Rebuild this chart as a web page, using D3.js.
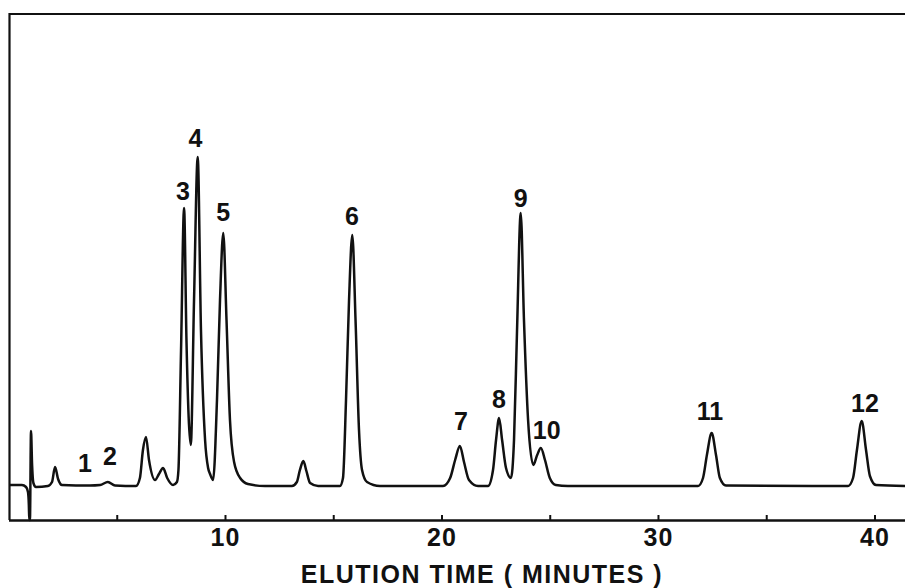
<!DOCTYPE html>
<html>
<head>
<meta charset="utf-8">
<script src="https://cdn.jsdelivr.net/npm/d3@7"></script>
<style>
  body { margin: 0; background: #fff; }
  svg { display: block; }
  .peak-label, .tick text { font-family: "Liberation Sans", Arial, sans-serif; font-weight: bold; fill: #111; }
</style>
</head>
<body>
<div id="chart"></div>
<script>
// detector trace (minutes, arbitrary response units)
const times = [
  0.07, 0.62, 0.81, 0.90, 0.94, 0.96, 0.99, 1.04, 1.09, 1.15, 1.27,
  1.82, 2.01, 2.15, 2.29, 2.47,
  3.76, 4.23, 4.59, 4.92,
  5.89, 6.07, 6.21, 6.35, 6.49, 6.77, 6.95, 7.14, 7.33, 7.60, 7.78,
  7.85, 7.97, 8.11, 8.22, 8.42, 8.57, 8.74, 8.89, 9.08, 9.22, 9.31, 9.45,
  9.63, 9.77, 9.92, 10.07, 10.23, 10.42, 10.70, 11.06, 11.85,
  13.09, 13.32, 13.46, 13.62, 13.76, 13.93, 14.30,
  15.31, 15.45, 15.59, 15.73, 15.88, 16.03, 16.19, 16.33, 16.56, 17.16,
  20.07, 20.40, 20.63, 20.85, 21.04, 21.27, 21.69,
  22.15, 22.38, 22.52, 22.66, 22.80, 22.98, 23.21,
  23.35, 23.49, 23.66, 23.81, 24.00, 24.24,
  24.42, 24.59, 24.78, 25.00, 25.28, 25.84,
  31.85, 32.08, 32.26, 32.48, 32.68, 32.86, 33.14,
  38.78, 39.01, 39.19, 39.41, 39.61, 39.79, 40.07, 41.41
];
const signal = [
  1, 1, -1, -6, -19, -34, -34, 55, 21, 3, -1,
  0, 4, 19, 7, 1,
  0.5, 1, 4, 0.5,
  0, 8, 36, 49, 26, 6, 12, 18, 8, 1, 4,
  16, 136, 278, 146, 41, 186, 329, 156, 46, 18, 12, 6,
  86, 186, 253, 166, 66, 24, 8, 2, 0,
  0, 4, 16, 25, 15, 3, 0,
  0, 8, 86, 186, 251, 166, 56, 16, 4, 0,
  0, 8, 26, 40, 24, 6, 0,
  0, 16, 46, 68, 46, 18, 8,
  46, 156, 273, 166, 66, 21,
  31, 38, 26, 8, 1, 0,
  0, 8, 31, 53, 31, 8, 0.5,
  0, 8, 36, 65, 36, 10, 1, 0
];

// peak numbers and where they are written
const peakNames = ['1', '2', '3', '4', '5', '6', '7', '8', '9', '10', '11', '12'];
const labelTimes = [3.53, 4.69, 8.06, 8.63, 9.92, 15.87, 20.90, 22.66, 23.66, 24.86, 32.40, 39.56];
const labelLevels = [14, 21, 286, 339, 265, 261, 56, 78, 279, 47, 66, 74];

const tickValues = [5, 10, 15, 20, 25, 30, 35, 40];
const tickLabels = ['', '10', '', '20', '', '30', '', '40'];
const axisTitle = 'ELUTION TIME ( MINUTES )';

const width = 905;
const height = 588;
const plot = { left: 9.5, top: 14, bottom: 520 };

const svg = d3.select('#chart')
  .append('svg')
  .attr('width', width)
  .attr('height', height);

const x = d3.scaleLinear().domain([0, 41.41]).range([8.5, 905]);
const y = d3.scaleLinear().domain([-34, 472]).range([plot.bottom, plot.top]);

// frame: left and top edges
svg.append('path')
  .attr('d', `M${plot.left},${plot.bottom} V${plot.top} H${width}`)
  .attr('fill', 'none')
  .attr('stroke', '#111')
  .attr('stroke-width', 2.2);

// time axis, ticks pointing up
const axis = svg.append('g')
  .attr('transform', `translate(0,${plot.bottom})`)
  .call(d3.axisBottom(x)
    .tickValues(tickValues)
    .tickFormat((d, i) => tickLabels[i])
    .tickSizeInner(-5)
    .tickSizeOuter(0)
    .tickPadding(8));

axis.select('.domain').attr('stroke', '#111').attr('stroke-width', 2.4);
axis.selectAll('.tick line').attr('stroke', '#111').attr('stroke-width', 2);
axis.selectAll('.tick text')
  .attr('font-size', 25)
  .attr('letter-spacing', 1);

svg.append('text')
  .attr('class', 'peak-label')
  .attr('x', 482)
  .attr('y', 583)
  .attr('text-anchor', 'middle')
  .attr('font-size', 25)
  .attr('letter-spacing', 1.5)
  .text(axisTitle);

// trace
const points = times.map((t, i) => [t, signal[i]]);
const line = d3.line()
  .x(d => x(d[0]))
  .y(d => y(d[1]))
  .curve(d3.curveMonotoneX);

svg.append('path')
  .datum(points)
  .attr('d', line)
  .attr('fill', 'none')
  .attr('stroke', '#111')
  .attr('stroke-width', 2.5)
  .attr('stroke-linejoin', 'round');

// peak numbers
svg.selectAll('.peak-num')
  .data(peakNames)
  .enter()
  .append('text')
  .attr('class', 'peak-label peak-num')
  .attr('x', (d, i) => x(labelTimes[i]))
  .attr('y', (d, i) => y(labelLevels[i]))
  .attr('text-anchor', 'middle')
  .attr('font-size', 25)
  .text(d => d);
</script>
</body>
</html>
